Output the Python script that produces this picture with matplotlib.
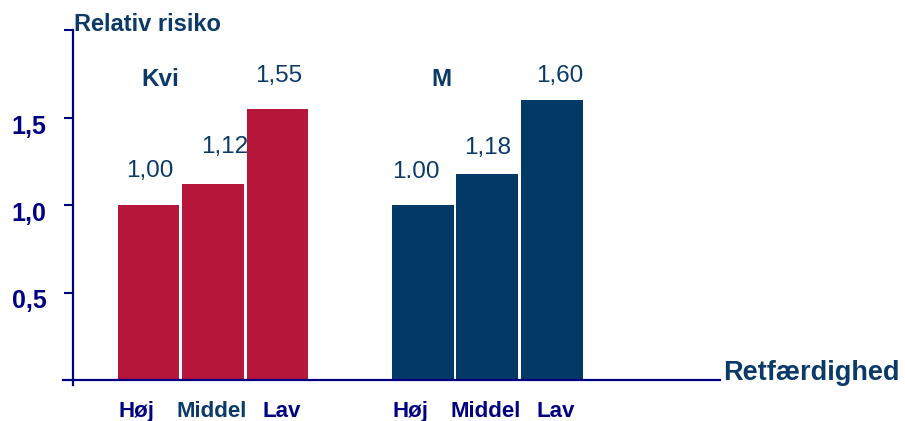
import matplotlib
matplotlib.use("Agg")
import matplotlib.pyplot as plt
from matplotlib.transforms import ScaledTranslation

plt.rcParams['font.family'] = ['Liberation Sans', 'DejaVu Sans']

# ---- data -------------------------------------------------------------
groups = ["Kvi", "M"]
levels = ["Høj", "Middel", "Lav"]
risk_kvi = [1.00, 1.12, 1.55]
risk_m = [1.00, 1.18, 1.60]
text_kvi = ["1,00", "1,12", "1,55"]
text_m = ["1.00", "1,18", "1,60"]
ytick_values = [0.5, 1.0, 1.5, 2.0]
ytick_text = ["0,5", "1,0", "1,5", ""]
y_title = "Relativ risiko"
x_title = "Retfærdighed"

risks = [risk_kvi, risk_m]
value_texts = [text_kvi, text_m]

# ---- style ------------------------------------------------------------
bar_colors = ["#B51639", "#033966"]
TEXT = "#0B3A68"
AXIS = "#000080"
W, H, DPI = 905, 421, 100
GROUP_STEP = 4.25          # distance between groups in bar units
BAR_W = 0.96
PX_X = 64.5                # pixels per bar unit
FIRST_BAR_PX = 148.5

# offsets (pixels) of the value labels relative to the top of each bar
label_dx = [[1, 11.5, 1], [-7, 0.5, 8]]
label_dy = [[33.5, 37, 33], [33.5, 25.6, 24.3]]
# horizontal nudges for the category labels under the bars
level_dx = [-12, -1, 4.5]
level_colors = [[AXIS, TEXT, AXIS], [AXIS, AXIS, AXIS]]
group_dx = [0.18, 0.29]

fig = plt.figure(figsize=(W / DPI, H / DPI), dpi=DPI)
ax = fig.add_axes([63 / W, (H - 380) / H, (720 - 63) / W, 350 / H])
ax.set_xlim((63 - FIRST_BAR_PX) / PX_X, (720 - FIRST_BAR_PX) / PX_X)
ax.set_ylim(0, 2.0)

xs_all, lab_all, col_all = [], [], []
for g, (name, vals, vtxt) in enumerate(zip(groups, risks, value_texts)):
    xs = [g * GROUP_STEP + i for i in range(len(vals))]
    ax.bar(xs, vals, width=BAR_W, color=bar_colors[g], linewidth=0)
    for i, (x, v, t) in enumerate(zip(xs, vals, vtxt)):
        ax.annotate(t, xy=(x, v), xytext=(label_dx[g][i], label_dy[g][i]),
                    textcoords="offset pixels", ha="center", va="center",
                    fontsize=17.5, color=TEXT)
    ax.text(xs[0] + group_dx[g], 1.72, name, ha="center", va="center",
            fontsize=17.5, fontweight="bold", color=TEXT)
    xs_all += xs
    lab_all += levels
    col_all += level_colors[g]

# axes lines
for side in ("top", "right"):
    ax.spines[side].set_visible(False)
ax.spines["left"].set_position(("data", (73 - FIRST_BAR_PX) / PX_X))
ax.spines["left"].set_bounds(-5 / 175, 2.0)
for side in ("left", "bottom"):
    ax.spines[side].set_color(AXIS)
    ax.spines[side].set_linewidth(1.6)

ax.set_yticks(ytick_values)
ax.set_yticklabels(ytick_text)
ax.tick_params(axis="y", direction="out", length=6.5, width=1.5,
               color=AXIS, pad=12.5, labelsize=18, labelcolor=AXIS)
for lbl in ax.get_yticklabels():
    lbl.set_fontweight("bold")
    lbl.set_transform(lbl.get_transform() +
                      ScaledTranslation(0, -6.5 / DPI, fig.dpi_scale_trans))

ax.set_xticks(xs_all)
ax.set_xticklabels(lab_all)
ax.tick_params(axis="x", length=0, pad=15, labelsize=16)
for k, lbl in enumerate(ax.get_xticklabels()):
    lbl.set_fontweight("bold")
    lbl.set_color(col_all[k])
    lbl.set_transform(lbl.get_transform() +
                      ScaledTranslation(level_dx[k % 3] / DPI, 0,
                                        fig.dpi_scale_trans))

fig.text(74 / W, 1 - 24.5 / H, y_title, ha="left", va="center",
         fontsize=17, fontweight="bold", color=TEXT)
fig.text(723 / W, 1 - 373 / H, x_title, ha="left", va="center",
         fontsize=19.5, fontweight="bold", color=TEXT)

fig.savefig("out.png", dpi=DPI)
